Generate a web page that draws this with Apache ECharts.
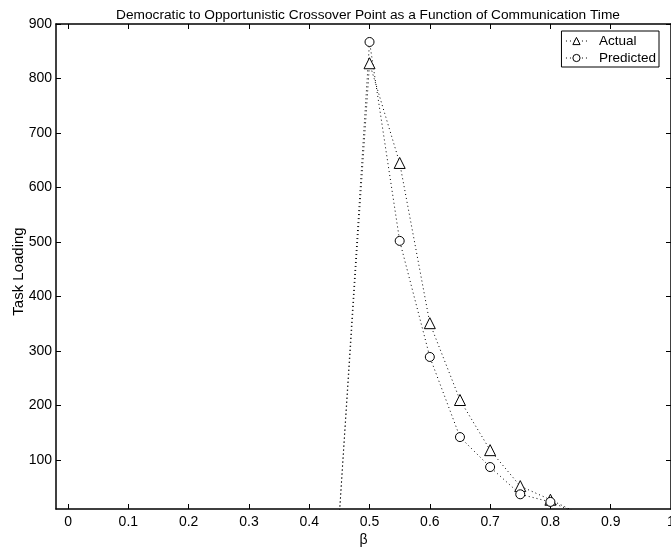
<!DOCTYPE html>
<html>
<head>
<meta charset="utf-8">
<script src="https://cdn.jsdelivr.net/npm/echarts@6/dist/echarts.min.js"></script>
<style>html,body{margin:0;padding:0;background:#fff;}#c{width:671px;height:550px;}</style>
</head>
<body>
<div id="c"></div>
<script>
const betaValues = [0.45, 0.5, 0.55, 0.6, 0.65, 0.7, 0.75, 0.8, 0.85];
const actual =    [0, 828, 645, 351, 210, 118, 52, 27, 0];
const predicted = [0, 867, 502, 289, 142, 87, 37, 23, 0];
const xTicks = [0, 0.1, 0.2, 0.3, 0.4, 0.5, 0.6, 0.7, 0.8, 0.9, 1];
const yTicks = [100, 200, 300, 400, 500, 600, 700, 800, 900];

const FONT = 'Liberation Sans, Arial, sans-serif';
function mk(vals) {
  return betaValues.map((b, i) => {
    const p = { value: [b, vals[i]] };
    if (i === 0 || i === betaValues.length - 1) p.symbol = 'none';
    return p;
  });
}
const axisLine = { show: true, onZero: false, lineStyle: { color: '#000', width: 1.5 } };
const tick = (vals) => ({ show: true, inside: true, length: 5, customValues: vals, lineStyle: { color: '#000', width: 1 } });
const dotted = { type: [1, 3], color: '#000', width: 1 };

const chart = echarts.init(document.getElementById('c'));
chart.setOption({
  animation: false,
  backgroundColor: '#fff',
  title: {
    text: 'Democratic to Opportunistic Crossover Point as a Function of Communication Time',
    left: 363, top: 3, textAlign: 'center',
    textStyle: { fontFamily: FONT, fontSize: 13.7, fontWeight: 'normal', color: '#000' }
  },
  legend: {
    right: 12, top: 31, orient: 'vertical',
    borderColor: '#000', borderWidth: 1, backgroundColor: '#fff', borderRadius: 0,
    padding: [3, 3, 2, 4], itemGap: 3, itemWidth: 21, itemHeight: 9,
    itemStyle: { borderWidth: 1, color: '#fff', borderColor: '#000' },
    lineStyle: dotted,
    textStyle: { fontFamily: FONT, fontSize: 13.5, color: '#000', padding: [0, 0, 0, 7] },
    data: ['Actual', 'Predicted']
  },
  grid: { left: 56, right: 0, top: 24, bottom: 41, outerBoundsMode: 'none', containLabel: false },
  xAxis: [{
    type: 'value', min: -0.02, max: 1, position: 'bottom',
    name: 'β', nameLocation: 'middle', nameGap: 24, nameMoveOverlap: false,
    nameTextStyle: { fontFamily: FONT, fontSize: 14, color: '#000' },
    axisLine: axisLine, axisTick: tick(xTicks),
    axisLabel: { customValues: xTicks, fontFamily: FONT, fontSize: 14, color: '#000', margin: 6 },
    splitLine: { show: false }
  }, {
    type: 'value', min: -0.02, max: 1, position: 'top',
    axisLine: axisLine, axisTick: tick(xTicks),
    axisLabel: { show: false }, splitLine: { show: false }
  }],
  yAxis: [{
    type: 'value', min: 10, max: 900, position: 'left',
    name: 'Task Loading', nameLocation: 'middle', nameGap: 30, nameMoveOverlap: false,
    nameTextStyle: { fontFamily: FONT, fontSize: 15, color: '#000', padding: [0, 10, 0, 0] },
    axisLine: axisLine, axisTick: tick(yTicks),
    axisLabel: { customValues: yTicks, fontFamily: FONT, fontSize: 14, color: '#000', margin: 4 },
    splitLine: { show: false }
  }, {
    type: 'value', min: 10, max: 900, position: 'right',
    axisLine: axisLine, axisTick: tick(yTicks),
    axisLabel: { show: false }, splitLine: { show: false }
  }],
  series: [{
    name: 'Actual', type: 'line', data: mk(actual),
    symbol: 'triangle', symbolSize: 11, clip: true,
    lineStyle: dotted,
    itemStyle: { color: '#fff', borderColor: '#000', borderWidth: 1 }
  }, {
    name: 'Predicted', type: 'line', data: mk(predicted),
    symbol: 'circle', symbolSize: 9, clip: true,
    lineStyle: dotted,
    itemStyle: { color: '#fff', borderColor: '#000', borderWidth: 1 }
  }]
});
</script>
</body>
</html>
